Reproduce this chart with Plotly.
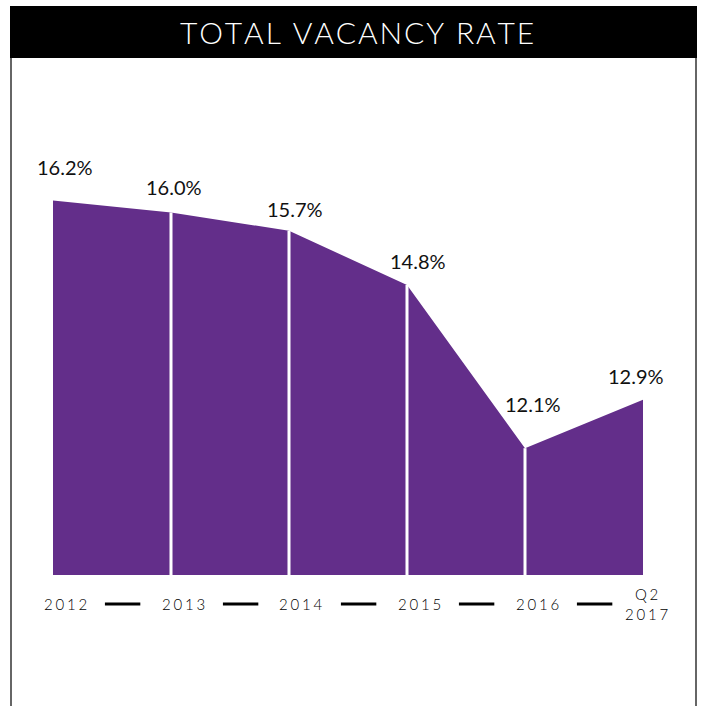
import plotly.graph_objects as go

# vacancy rate by period
periods = ["2012", "2013", "2014", "2015", "2016", "Q2<br>2017"]
rates = [16.2, 16.0, 15.7, 14.8, 12.1, 12.9]
rate_labels = ["16.2%", "16.0%", "15.7%", "14.8%", "12.1%", "12.9%"]

purple = "#632E8A"
font = "Lato"
W, H = 709, 706
L, R, T, B = 53, 66, 122, 131

x = list(range(len(rates)))

fig = go.Figure()
fig.add_trace(go.Scatter(x=x, y=rates, mode="lines", fill="tozeroy",
                         fillcolor=purple, line=dict(width=0, color=purple),
                         hoverinfo="skip"))

# white separators at each interior point
for i in x[1:-1]:
    fig.add_shape(type="line", xref="x", yref="y", x0=i, x1=i, y0=10, y1=rates[i],
                  line=dict(color="white", width=3), layer="above")

# value labels
xshift = [12, 3, 6, 11, 8, -7]
yshift = [20, 12, 8, 10, 30, 10]
for i, lab in enumerate(rate_labels):
    fig.add_annotation(x=i, y=rates[i], text=lab, showarrow=False, yanchor="bottom",
                       xshift=xshift[i], yshift=yshift[i],
                       font=dict(family=font, size=20, color="#111111"))

# period labels with letter spacing + dashes in between
ph = H - T - B
def py(p):
    return (H - B - p) / ph

def px(p):
    return (p - L) / (W - L - R)

sp = "\u2009\u200a"
for i, p in enumerate(periods):
    txt = "<br>".join(sp.join(part) for part in p.split("<br>"))
    fig.add_annotation(x=i, y=py(604), xref="x", yref="paper", text=txt, showarrow=False,
                       yanchor="middle", xshift=12 if i < 5 else 3,
                       font=dict(family=font, size=15, color="#000000", weight=300))
    if i < len(periods) - 1:
        fig.add_shape(type="line", xref="x", yref="paper", x0=i + 0.44, x1=i + 0.74,
                      y0=py(604), y1=py(604), line=dict(color="black", width=3))

# header bar and frame
fig.add_shape(type="rect", xref="paper", yref="paper", x0=px(10), x1=px(697),
              y0=py(58), y1=py(6), fillcolor="black", line=dict(width=0))
for xx in (11, 696):
    fig.add_shape(type="line", xref="paper", yref="paper", x0=px(xx), x1=px(xx),
                  y0=py(58), y1=py(710), line=dict(color="#333333", width=1.5))
fig.add_annotation(xref="paper", yref="paper", x=px(357), y=py(32), showarrow=False,
                   xanchor="center", yanchor="middle",
                   text="\u200a".join("TOTAL VACANCY RATE"),
                   font=dict(family=font, size=30, color="white", weight=300))

fig.update_layout(
    width=W, height=H,
    margin=dict(l=L, r=R, t=T, b=B),
    paper_bgcolor="white", plot_bgcolor="white",
    showlegend=False,
    xaxis=dict(range=[0, 5], visible=False, fixedrange=True),
    yaxis=dict(range=[10, 17.5], visible=False, fixedrange=True),
)

fig.write_html("out.html", config={"displayModeBar": False},
               post_script="document.body.style.margin='0';")
